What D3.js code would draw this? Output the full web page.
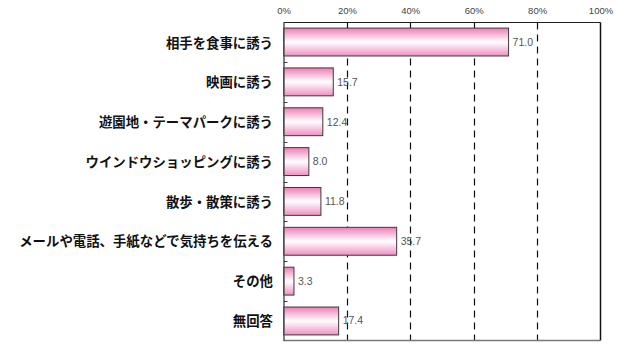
<!DOCTYPE html>
<html><head><meta charset="utf-8">
<script src="https://cdn.jsdelivr.net/npm/d3@7"></script>
<style>body{margin:0;background:#fff}svg{display:block}</style>
</head><body>
<script>
const categories = ["相手を食事に誘う","映画に誘う","遊園地・テーマパークに誘う","ウインドウショッピングに誘う","散歩・散策に誘う","メールや電話、手紙などで気持ちを伝える","その他","無回答"];
const values = [71.0,15.7,12.4,8.0,11.8,35.7,3.3,17.4];
const tickValues = [0,20,40,60,80,100];
const tickLabels = ["0%","20%","40%","60%","80%","100%"];

const W=640,H=347;
const plotTop=22.5,plotBottom=340.5;
const svg=d3.select("body").append("svg").attr("width",W).attr("height",H);
const x=d3.scaleLinear().domain([0,100]).range([283.5,600.5]);
const y=d3.scaleBand().domain(categories).range([plotTop,plotBottom]).paddingInner(0.30).paddingOuter(0.14);
const band=d3.scaleBand().domain(categories).range([plotTop,plotBottom]);

const defs=svg.append("defs");
const g=defs.append("linearGradient").attr("id","pg").attr("x1",0).attr("y1",0).attr("x2",0).attr("y2",1);
g.append("stop").attr("offset","0%").attr("stop-color","#ee7db6");
g.append("stop").attr("offset","50%").attr("stop-color","#ffffff");
g.append("stop").attr("offset","100%").attr("stop-color","#f08fc1");

// gridlines
svg.append("g").selectAll("line").data([20,40,60,80]).join("line")
  .attr("x1",d=>Math.round(x(d))+0.5).attr("x2",d=>Math.round(x(d))+0.5)
  .attr("y1",plotTop).attr("y2",plotBottom).attr("stroke","#111").attr("stroke-width",1.2)
  .attr("stroke-dasharray","7,5");

// frame
svg.append("line").attr("x1",x(0)).attr("x2",x(100)).attr("y1",plotTop).attr("y2",plotTop).attr("stroke","#222");
svg.append("line").attr("x1",x(100)).attr("x2",x(100)).attr("y1",plotTop).attr("y2",plotBottom).attr("stroke","#111").attr("stroke-width",1.5);
svg.append("line").attr("x1",x(0)).attr("x2",x(100)).attr("y1",plotBottom).attr("y2",plotBottom).attr("stroke","#777").attr("stroke-width",1.5);

// top axis labels
const ax=d3.axisTop(x).tickValues(tickValues).tickFormat((d,i)=>tickLabels[i]).tickSize(0).tickPadding(0);
const axg=svg.append("g").attr("transform","translate(0,14)").call(ax);
axg.select(".domain").remove();
axg.selectAll("text").attr("font-family","Liberation Sans, Arial, sans-serif").attr("font-size","9.5px").attr("fill","#444");

// bars
svg.append("g").selectAll("rect").data(values).join("rect")
  .attr("x",x(0)).attr("y",(d,i)=>y(categories[i]))
  .attr("width",d=>x(d)-x(0)).attr("height",y.bandwidth())
  .attr("fill","url(#pg)").attr("stroke","#3a3a3a").attr("stroke-width",1);

// left axis
const la=d3.axisLeft(band).tickSize(0).tickFormat(()=>"");
const lag=svg.append("g").attr("transform",`translate(${x(0)},0)`).call(la);
lag.select(".domain").attr("stroke","#555").attr("stroke-width",1.5);
// inward ticks at boundaries
svg.append("g").selectAll("line").data(categories.slice(1)).join("line")
  .attr("x1",x(0)).attr("x2",x(0)+4).attr("y1",d=>Math.round(band(d))+0.5).attr("y2",d=>Math.round(band(d))+0.5)
  .attr("stroke","#444");

// category labels
svg.append("g").selectAll("text").data(categories).join("text")
  .attr("x",273).attr("y",d=>band(d)+band.bandwidth()/2+0.5).attr("dy","0.36em")
  .attr("text-anchor","end").attr("font-family","Noto Sans CJK JP").attr("font-weight","bold")
  .attr("font-size","13.4px").attr("fill","#111").text(d=>d);

// value labels
svg.append("g").selectAll("text").data(values).join("text")
  .attr("x",d=>x(d)+4).attr("y",(d,i)=>band(categories[i])+band.bandwidth()/2).attr("dy","0.36em")
  .attr("font-family","Liberation Sans, Arial, sans-serif").attr("font-size","10.5px").attr("fill","#555")
  .text(d=>d.toFixed(1));
</script>
</body></html>
